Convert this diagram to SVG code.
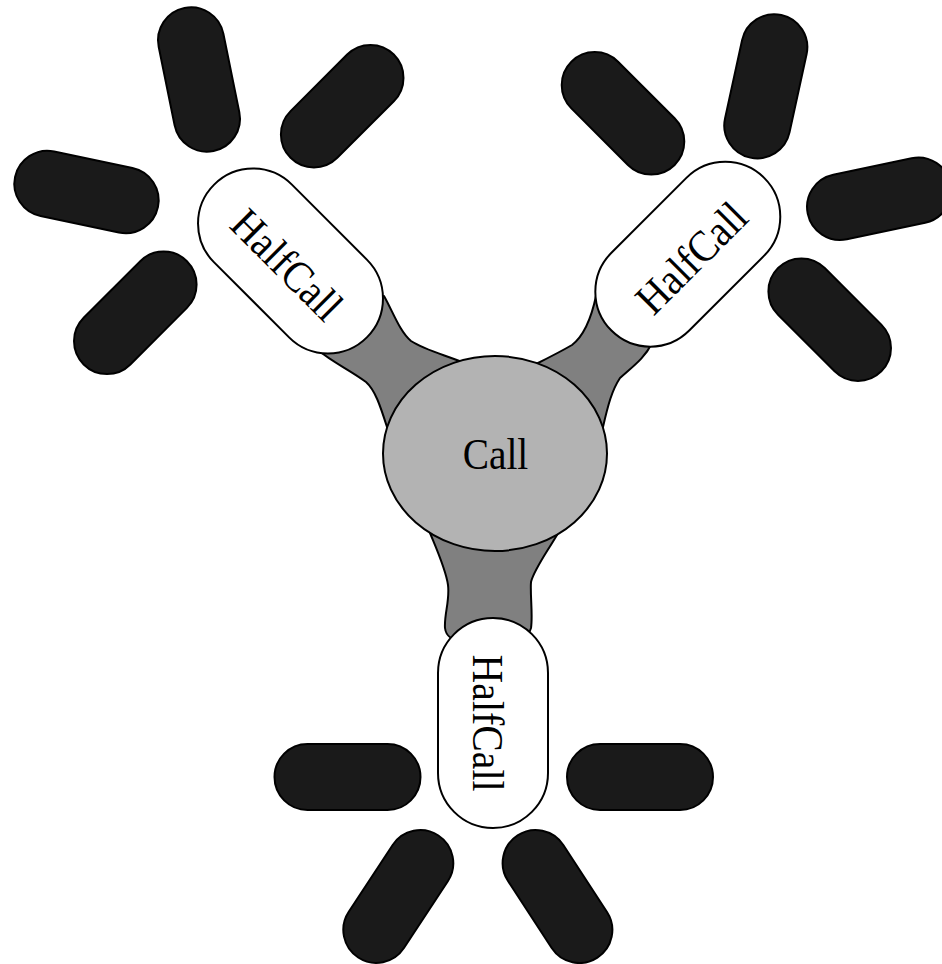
<svg xmlns="http://www.w3.org/2000/svg" width="942" height="964" viewBox="0 0 942 964">
<style>
.sat{fill:#1a1a1a;stroke:#000;stroke-width:2}
.half{fill:#fff;stroke:#000;stroke-width:2}
.call{fill:#b3b3b3;stroke:#000;stroke-width:2}
.conn{fill:#808080;stroke:#000;stroke-width:2;stroke-linejoin:round}
.lbl{font-family:"Liberation Serif","Times New Roman",serif;font-size:44px;fill:#000;text-anchor:middle}
</style>
<rect width="942" height="964" fill="#fff"/>
<g id="connectors">
<path class="conn" d="M 350,300 L 384,296 C 393,312 400,332 411,341 C 425,350 445,355 462,362 L 470,380 L 400,430 L 387,427 C 380,405 375,390 366,382 C 350,370 332,362 318,350 Z"/>
<path class="conn" d="M 640,300 L 596,296 C 592,315 585,335 572,345 C 560,352 548,358 536,364 L 530,380 L 590,430 L 603,427 C 608,405 612,390 620,378 C 632,367 645,358 652,343 Z"/>
<path class="conn" d="M 430,533 C 437,550 446,570 448,585 C 450,600 444,615 445,628 C 446,636 452,640 460,640 L 528,636 L 531,628 C 533,615 530,595 531,582 C 534,570 545,555 557,535 L 540,500 L 450,500 Z"/>
</g>
<g id="sat-tl-1" transform="translate(199,79.5) rotate(78.5)"><rect class="sat" x="-73" y="-33" width="146" height="66" rx="33"/></g>
<g id="sat-tl-2" transform="translate(342.2,106.2) rotate(-45)"><rect class="sat" x="-73" y="-33" width="146" height="66" rx="33"/></g>
<g id="sat-tl-3" transform="translate(86.5,192) rotate(11.9)"><rect class="sat" x="-73" y="-33" width="146" height="66" rx="33"/></g>
<g id="sat-tl-4" transform="translate(135.3,312.8) rotate(-45)"><rect class="sat" x="-73" y="-33" width="146" height="66" rx="33"/></g>
<g id="sat-tr-1" transform="translate(623,113.3) rotate(45)"><rect class="sat" x="-73" y="-33" width="146" height="66" rx="33"/></g>
<g id="sat-tr-2" transform="translate(765.8,86.3) rotate(102.3)"><rect class="sat" x="-73" y="-33" width="146" height="66" rx="33"/></g>
<g id="sat-tr-3" transform="translate(879.2,198.7) rotate(-11.9)"><rect class="sat" x="-73" y="-33" width="146" height="66" rx="33"/></g>
<g id="sat-tr-4" transform="translate(829.7,319.7) rotate(45)"><rect class="sat" x="-73" y="-33" width="146" height="66" rx="33"/></g>
<g id="sat-b-1" transform="translate(347.5,777)"><rect class="sat" x="-73" y="-33" width="146" height="66" rx="33"/></g>
<g id="sat-b-2" transform="translate(640,777)"><rect class="sat" x="-73" y="-33" width="146" height="66" rx="33"/></g>
<g id="sat-b-3" transform="translate(398.3,896.5) rotate(123.3)"><rect class="sat" x="-73" y="-33" width="146" height="66" rx="33"/></g>
<g id="sat-b-4" transform="translate(557.5,896.5) rotate(56.9)"><rect class="sat" x="-73" y="-33" width="146" height="66" rx="33"/></g>
<g id="halfcall-tl" transform="translate(290.5,261) rotate(45)"><rect class="half" x="-108" y="-55" width="216" height="110" rx="55"/><text class="lbl" x="0" y="20" textLength="137" lengthAdjust="spacingAndGlyphs">HalfCall</text></g>
<g id="halfcall-tr" transform="translate(687.8,254.2) rotate(-45)"><rect class="half" x="-108" y="-55" width="216" height="110" rx="55"/><text class="lbl" x="0" y="20" textLength="137" lengthAdjust="spacingAndGlyphs">HalfCall</text></g>
<g id="halfcall-b" transform="translate(493,723) rotate(90)"><rect class="half" x="-105" y="-55" width="210" height="110" rx="55"/><text class="lbl" x="0" y="20" textLength="137" lengthAdjust="spacingAndGlyphs">HalfCall</text></g>
<g id="call"><ellipse class="call" cx="495" cy="453.5" rx="112" ry="97.5"/><text class="lbl" x="495.5" y="469.3" textLength="65.6" lengthAdjust="spacingAndGlyphs">Call</text></g>
</svg>
